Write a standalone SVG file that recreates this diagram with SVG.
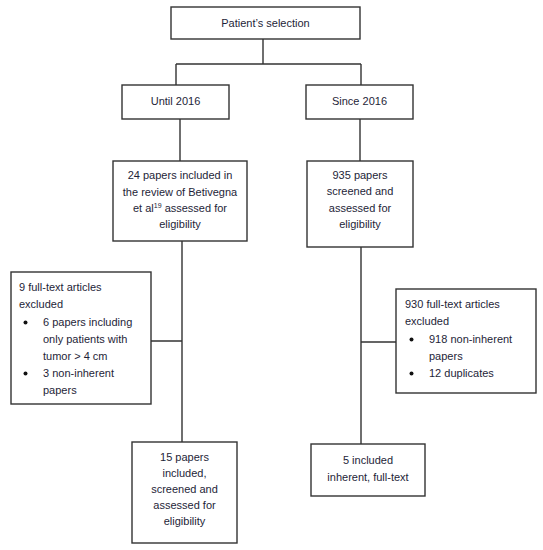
<svg xmlns="http://www.w3.org/2000/svg" width="543" height="550" viewBox="0 0 543 550">
<style>
.box{fill:#fff;stroke:#333;stroke-width:1.4}
.ln{fill:none;stroke:#333;stroke-width:1.4}
text{font-family:"Liberation Sans",Arial,sans-serif;font-size:11px;fill:#1e1e38}
.c{text-anchor:middle}
.b{fill:#111}
</style>
<rect width="543" height="550" fill="#fff"/>
<g id="connectors">
<path class="ln" d="M263,39 V64 M176,64 H361 M176,64 V85 M361,64 V85"/>
<path class="ln" d="M180,119 V161 M360,119 V161"/>
<path class="ln" d="M182,241 V442 M151,341 H182"/>
<path class="ln" d="M361,247 V444 M361,342 H396"/>
</g>
<g id="patients-selection">
<rect class="box" x="171" y="7" width="189" height="32"/>
<text class="c" x="265.5" y="27">Patient’s selection</text>
</g>
<g id="until-2016">
<rect class="box" x="122" y="85" width="107" height="34"/>
<text class="c" x="175.5" y="105">Until 2016</text>
</g>
<g id="since-2016">
<rect class="box" x="306" y="85" width="107" height="34"/>
<text class="c" x="359.5" y="105">Since 2016</text>
</g>
<g id="papers-24">
<rect class="box" x="113" y="161" width="134" height="80"/>
<text class="c" x="180" y="179">24 papers included in</text>
<text class="c" x="180" y="195.5">the review of Betivegna</text>
<text class="c" x="180" y="212">et al<tspan font-size="7" dy="-4">19</tspan><tspan dy="4"> assessed for</tspan></text>
<text class="c" x="180" y="228">eligibility</text>
</g>
<g id="papers-935">
<rect class="box" x="307" y="161" width="106" height="86"/>
<text class="c" x="360" y="178.5">935 papers</text>
<text class="c" x="360" y="195">screened and</text>
<text class="c" x="360" y="211.5">assessed for</text>
<text class="c" x="360" y="227.5">eligibility</text>
</g>
<g id="excluded-9">
<rect class="box" x="11" y="272" width="140" height="132"/>
<text x="19" y="291">9 full-text articles</text>
<text x="19" y="308">excluded</text>
<circle class="b" cx="25.5" cy="322.5" r="2"/>
<text x="43" y="326">6 papers including</text>
<text x="43" y="343">only patients with</text>
<text x="43" y="360">tumor &gt; 4 cm</text>
<circle class="b" cx="25.5" cy="373.5" r="2"/>
<text x="43" y="377">3 non-inherent</text>
<text x="43" y="394">papers</text>
</g>
<g id="excluded-930">
<rect class="box" x="396" y="289" width="140" height="104"/>
<text x="405" y="308">930 full-text articles</text>
<text x="405" y="325">excluded</text>
<circle class="b" cx="411.5" cy="339.5" r="2"/>
<text x="429" y="343">918 non-inherent</text>
<text x="429" y="360">papers</text>
<circle class="b" cx="411.5" cy="373.5" r="2"/>
<text x="429" y="377">12 duplicates</text>
</g>
<g id="included-15">
<rect class="box" x="132" y="442" width="105" height="101"/>
<text class="c" x="184.5" y="461">15 papers</text>
<text class="c" x="184.5" y="477">included,</text>
<text class="c" x="184.5" y="493">screened and</text>
<text class="c" x="184.5" y="509">assessed for</text>
<text class="c" x="184.5" y="525">eligibility</text>
</g>
<g id="included-5">
<rect class="box" x="311" y="444" width="114" height="52"/>
<text class="c" x="368" y="464">5 included</text>
<text class="c" x="368" y="481">inherent, full-text</text>
</g>
</svg>
